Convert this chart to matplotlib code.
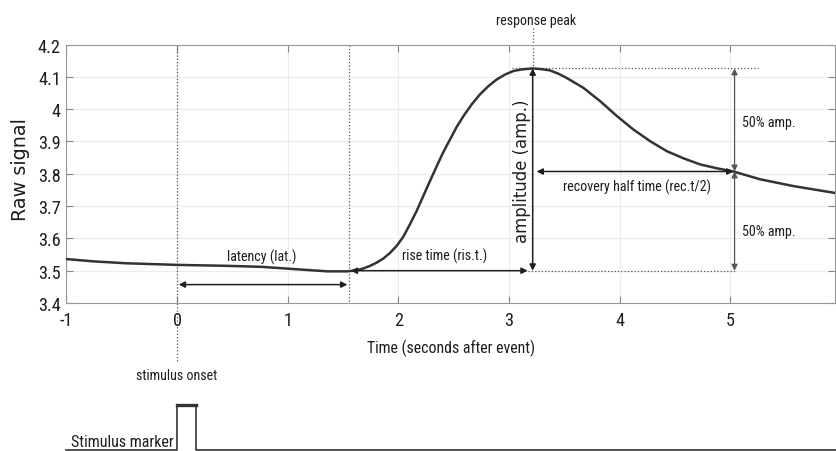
import matplotlib
matplotlib.use('Agg')
import matplotlib.pyplot as plt
from matplotlib import font_manager

# prefer a narrow sans if one is installed, otherwise Liberation Sans
installed = {f.name for f in font_manager.fontManager.ttflist}
narrow = next((n for n in ['Liberation Sans Narrow', 'Roboto Condensed',
                           'Open Sans Condensed'] if n in installed), None)
if narrow:
    plt.rcParams['font.family'] = [narrow, 'DejaVu Sans']
    k = 1.06
else:
    plt.rcParams['font.family'] = ['Liberation Sans', 'DejaVu Sans']
    k = 1.0

# --- signal (time in s, raw signal) ---
time_s = [-1.0, -0.76, -0.46, 0.0, 0.46, 0.76, 1.06, 1.36, 1.54, 1.62, 1.684,
          1.745, 1.805, 1.866, 1.925, 1.986, 2.045, 2.106, 2.166, 2.227, 2.287,
          2.348, 2.407, 2.469, 2.528, 2.59, 2.664, 2.739, 2.814, 2.89, 2.965,
          3.04, 3.116, 3.215, 3.29, 3.37, 3.445, 3.52, 3.673, 3.824, 3.975,
          4.125, 4.276, 4.427, 4.577, 4.728, 4.879, 5.03, 5.27, 5.57, 5.96]
signal = [3.536, 3.529, 3.523, 3.518, 3.515, 3.512, 3.505, 3.498, 3.498, 3.501,
          3.507, 3.515, 3.525, 3.538, 3.555, 3.577, 3.605, 3.644, 3.685, 3.732,
          3.778, 3.824, 3.867, 3.907, 3.945, 3.979, 4.015, 4.046, 4.071, 4.092,
          4.107, 4.118, 4.123, 4.126, 4.124, 4.120, 4.110, 4.097, 4.066, 4.025,
          3.979, 3.937, 3.901, 3.870, 3.848, 3.829, 3.817, 3.807, 3.783, 3.762,
          3.740]

# stimulus marker trace
marker_t = [-1.0, 0.0, 0.0, 0.17, 0.17, 6.0]
marker_v = [0, 0, 1, 1, 0, 0]

x_ticks = [-1, 0, 1, 2, 3, 4, 5]
y_ticks = [3.4, 3.5, 3.6, 3.7, 3.8, 3.9, 4.0, 4.1, 4.2]
y_ticklabels = ['3.4', '3.5', '3.6', '3.7', '3.8', '3.9', '4', '4.1', '4.2']

# key values of the response
t_onset = 0.0
t_min = 1.55
t_peak = 3.215
t_half = 5.04
v_base = 3.5
v_peak = 4.126
v_half = 3.807

ink = '#1e1e1e'
dot = dict(color='#555555', linestyle=':', linewidth=0.9)
fs_note = 9.5 * k

fig = plt.figure(figsize=(8.36, 4.52), dpi=100)
ax = fig.add_axes([0.0795, 0.3274, 0.9193, 0.5719])

ax.plot(time_s, signal, color='#333333', linewidth=1.8, zorder=3)

ax.set_xlim(-1, 5.948)
ax.set_ylim(3.4, 4.2)
ax.set_xticks(x_ticks)
ax.set_xticklabels([str(t) for t in x_ticks])
ax.set_yticks(y_ticks)
ax.set_yticklabels(y_ticklabels)
ax.tick_params(direction='in', length=5, top=True, right=True, color='#888888',
               labelcolor=ink, labelsize=12.4 * k)
ax.tick_params(axis='x', pad=6)
ax.tick_params(axis='y', pad=4)
for s in ax.spines.values():
    s.set_color('#999999')
ax.grid(True, color='#ececec', linewidth=0.8)

ax.set_xlabel('Time (seconds after event)', fontsize=10.8 * k, color=ink, labelpad=7)
ax.set_ylabel('Raw signal', family='DejaVu Sans', fontsize=13.8, color=ink)
ax.yaxis.set_label_coords(-0.047, 0.52)

# --- dotted guide lines ---
ax.plot([t_onset, t_onset], [4.2, 3.222], clip_on=False, **dot)
ax.plot([t_min, t_min], [4.2, 3.4], **dot)
ax.plot([t_peak, t_peak], [4.252, v_peak], clip_on=False, **dot)
ax.plot([3.03, 5.25], [v_peak, v_peak], **dot)
ax.plot([3.17, 5.05], [v_base, v_base], **dot)

# --- arrows ---
def arrow(x0, y0, x1, y1, col=ink, lw=1.1):
    ax.annotate('', xy=(x1, y1), xytext=(x0, y0),
                arrowprops=dict(arrowstyle='<|-|>', color=col, lw=lw,
                                mutation_scale=9, shrinkA=0, shrinkB=0))

arrow(0.015, 3.457, 1.54, 3.457)
arrow(1.57, v_base, 3.17, v_base)
arrow(t_peak, v_base, t_peak, v_peak)
arrow(3.25, v_half, 5.03, v_half)
arrow(t_half, v_peak, t_half, v_half, col='#555555', lw=0.9)
arrow(t_half, v_half, t_half, v_base, col='#555555', lw=0.9)

# --- labels ---
ax.text(0.765, 3.545, 'latency (lat.)', fontsize=fs_note, color=ink, ha='center', va='center')
ax.text(2.415, 3.548, 'rise time (ris.t.)', fontsize=fs_note, color=ink, ha='center', va='center')
ax.text(3.117, 3.811, 'amplitude (amp.)', family='DejaVu Sans', fontsize=11.9,
        color=ink, rotation=90, ha='center', va='center')
ax.text(4.155, 3.760, 'recovery half time (rec.t/2)', fontsize=fs_note, color=ink,
        ha='center', va='center')
ax.text(5.11, 3.959, '50% amp.', fontsize=fs_note, color=ink, ha='left', va='center')
ax.text(5.11, 3.622, '50% amp.', fontsize=fs_note, color=ink, ha='left', va='center')
ax.text(3.245, 4.277, 'response peak', fontsize=fs_note, color=ink, ha='center', va='center')
ax.text(t_onset, 3.178, 'stimulus onset', fontsize=fs_note, color=ink, ha='center', va='center')

# --- stimulus marker strip ---
mk = fig.add_axes([0.0795, 0.0, 0.9193, 52 / 452])
mk.plot(marker_t, marker_v, color='#333333', linewidth=1.2, clip_on=False)
mk.plot(marker_t[2:4], marker_v[2:4], color='#333333', linewidth=2.4, clip_on=False)
mk.set_xlim(-1, 5.948)
mk.set_ylim(-0.02, 1.13)
mk.axis('off')
mk.text(-0.03, 0.08, 'Stimulus marker', fontsize=10.85 * k, color=ink, ha='right', va='baseline')

fig.savefig('out.png', dpi=100)
